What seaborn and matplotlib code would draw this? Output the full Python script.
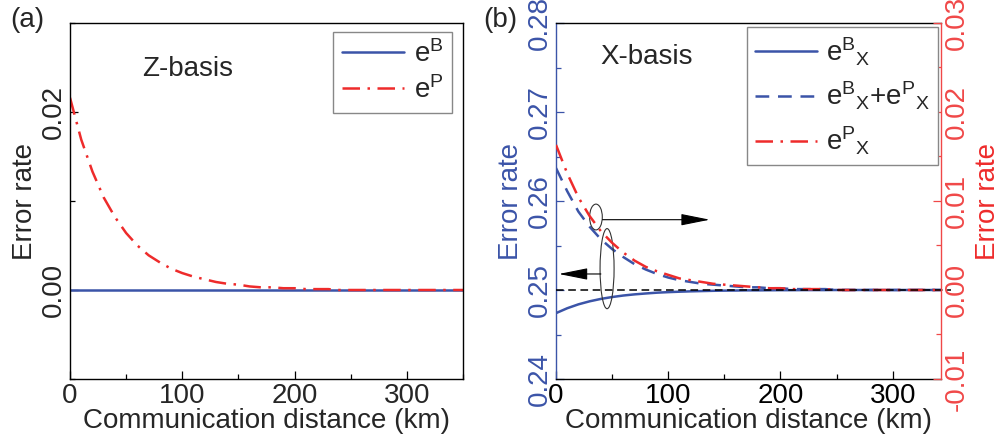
import numpy as np
import pandas as pd
import seaborn as sns
import matplotlib
matplotlib.use("Agg")
import matplotlib.pyplot as plt
from matplotlib.patches import Ellipse
from matplotlib.ticker import MultipleLocator, FormatStrFormatter

# ---------------- data ----------------
distance_km = [0, 10, 20, 30, 40, 50, 60, 70, 80, 90, 100, 110, 120, 130, 140, 150, 160, 170,
               180, 190, 200, 210, 220, 230, 240, 250, 260, 270, 280, 290, 300, 310, 320, 330, 340, 350]

# panel (a), Z basis
z_eB = [0.0] * 36
z_eP = [0.0216, 0.0169, 0.0133, 0.0104, 0.0082, 0.0064, 0.0050, 0.0039, 0.0031, 0.0024, 0.0019,
        0.0015, 0.0012, 0.0009, 0.0007, 0.0006, 0.0004, 0.0003, 0.0003, 0.0002, 0.0002, 0.0001,
        0.0001, 0.0001, 0.0, 0.0, 0.0, 0.0, 0.0, 0.0, 0.0, 0.0, 0.0, 0.0, 0.0, 0.0]

# panel (b), X basis (left axis)
x_eB = [0.24740, 0.24795, 0.24839, 0.24873, 0.24900, 0.24921, 0.24938, 0.24951, 0.24961, 0.24970,
        0.24976, 0.24981, 0.24985, 0.24988, 0.24991, 0.24993, 0.24994, 0.24996, 0.24996, 0.24997,
        0.24998, 0.24998, 0.24999, 0.24999, 0.24999, 0.25, 0.25, 0.25, 0.25, 0.25, 0.25, 0.25,
        0.25, 0.25, 0.25, 0.25]
x_eB_plus_eP = [0.2637, 0.2611, 0.2588, 0.2571, 0.2557, 0.2546, 0.2537, 0.2529, 0.2523, 0.2518,
                0.2514, 0.2511, 0.2509, 0.2507, 0.2506, 0.2505, 0.2504, 0.2503, 0.2503, 0.2502,
                0.2502, 0.2501, 0.2501, 0.2501, 0.2501, 0.2500, 0.2500, 0.2500, 0.2500, 0.2500,
                0.2500, 0.2500, 0.2500, 0.2500, 0.2500, 0.2500]
# panel (b), right axis
x_eP = [0.0163, 0.0131, 0.0104, 0.0083, 0.0066, 0.0053, 0.0042, 0.0033, 0.0026, 0.0021, 0.0017,
        0.0013, 0.0011, 0.0009, 0.0007, 0.0006, 0.0005, 0.0004, 0.0003, 0.0002, 0.0002, 0.0001,
        0.0001, 0.0001, 0.0001, 0.0, 0.0, 0.0, 0.0, 0.0, 0.0, 0.0, 0.0, 0.0, 0.0, 0.0]
reference_level_right = 0.0   # black dashed line (== 0.25 on left axis)

labels_a = [r'e$^{\mathrm{B}}$', r'e$^{\mathrm{P}}$']
labels_b = [r'e$^{\mathrm{B}}{}_{\mathrm{X}}$',
            r'e$^{\mathrm{B}}{}_{\mathrm{X}}$+e$^{\mathrm{P}}{}_{\mathrm{X}}$',
            r'e$^{\mathrm{P}}{}_{\mathrm{X}}$']

# ---------------- style ----------------
sns.set_style("ticks")
plt.rcParams['font.family'] = ['Liberation Sans', 'DejaVu Sans']
plt.rcParams['mathtext.fontset'] = 'custom'
plt.rcParams['mathtext.rm'] = 'Liberation Sans'
plt.rcParams['mathtext.it'] = 'Liberation Sans:italic'
plt.rcParams['mathtext.bf'] = 'Liberation Sans:bold'
plt.rcParams['axes.unicode_minus'] = False

BLUE = '#3b54a8'
RED = '#ee2b2b'
RED_AX = '#f04848'
TICK_FS = 20
LAB_FS = 20
LEG_FS = 20
LW = 1.8

fig = plt.figure(figsize=(10.04, 4.48), dpi=100)
ax_a = fig.add_axes([70 / 1004, 69 / 448, 393 / 1004, 356 / 448])
ax_b = fig.add_axes([556 / 1004, 69 / 448, 385 / 1004, 356 / 448])

df_a = pd.DataFrame({'d': distance_km, 'eB': z_eB, 'eP': z_eP})
df_b = pd.DataFrame({'d': distance_km, 'eB': x_eB, 'sum': x_eB_plus_eP, 'eP': x_eP})

dashdot = (0, (7, 3, 1, 3))
dashed = (0, (5.5, 3.5))

# ---------------- panel (a) ----------------
sns.lineplot(data=df_a, x='d', y='eB', ax=ax_a, color=BLUE, lw=LW)
sns.lineplot(data=df_a, x='d', y='eP', ax=ax_a, color=RED, lw=LW, linestyle=dashdot)
ax_a.set_xlim(0, 350)
ax_a.set_ylim(-0.01, 0.03)
ax_a.xaxis.set_major_locator(MultipleLocator(100))
ax_a.xaxis.set_minor_locator(MultipleLocator(50))
ax_a.yaxis.set_major_locator(MultipleLocator(0.02))
ax_a.yaxis.set_minor_locator(MultipleLocator(0.01))
ax_a.yaxis.set_major_formatter(FormatStrFormatter('%.2f'))
ax_a.tick_params(which='both', direction='in', labelsize=TICK_FS, color='k', width=0.9)
ax_a.tick_params(which='major', length=6)
ax_a.tick_params(which='minor', length=3.5)
ax_a.tick_params(axis='x', pad=3)
ax_a.tick_params(axis='y', pad=2)
for lab in ax_a.get_yticklabels():
    lab.set_rotation(90)
    lab.set_va('center')
for s in ax_a.spines.values():
    s.set_visible(True)
    s.set_linewidth(1.0)
    s.set_color('k')
ax_a.set_xlabel('Communication distance (km)', fontsize=LAB_FS, labelpad=-1)
ax_a.set_ylabel('Error rate', fontsize=LAB_FS, labelpad=2)
ax_a.text(0.183, 0.871, 'Z-basis', transform=ax_a.transAxes, fontsize=LAB_FS,
          ha='left', va='center')
h_a = ax_a.get_lines()[:2]
leg_a = ax_a.legend(h_a, labels_a, loc='upper right', bbox_to_anchor=(0.972, 0.975),
                    borderaxespad=0, fontsize=LEG_FS, frameon=True, fancybox=False,
                    edgecolor='#888888', framealpha=1, handlelength=2.25,
                    handletextpad=0.35, labelspacing=0.3, borderpad=0.3)
leg_a.get_frame().set_linewidth(1.0)

# ---------------- panel (b) ----------------
ax_b2 = ax_b.twinx()
sns.lineplot(data=df_b, x='d', y='eB', ax=ax_b, color=BLUE, lw=LW)
sns.lineplot(data=df_b, x='d', y='sum', ax=ax_b, color=BLUE, lw=LW, linestyle=dashed)
sns.lineplot(data=df_b, x='d', y='eP', ax=ax_b2, color=RED, lw=LW, linestyle=dashdot)
ax_b2.axhline(reference_level_right, xmin=0, xmax=1.025, color='k', lw=1.1,
              linestyle=(0, (5, 3)), clip_on=False)

ax_b.set_xlim(0, 343)
ax_b.set_ylim(0.24, 0.28)
ax_b2.set_ylim(-0.01, 0.03)
ax_b.xaxis.set_major_locator(MultipleLocator(100))
ax_b.xaxis.set_minor_locator(MultipleLocator(50))
ax_b.yaxis.set_major_locator(MultipleLocator(0.01))
ax_b.yaxis.set_minor_locator(MultipleLocator(0.005))
ax_b2.yaxis.set_major_locator(MultipleLocator(0.01))
ax_b2.yaxis.set_minor_locator(MultipleLocator(0.005))
ax_b.yaxis.set_major_formatter(FormatStrFormatter('%.2f'))
ax_b2.yaxis.set_major_formatter(FormatStrFormatter('%.2f'))

ax_b.tick_params(which='both', direction='in', labelsize=TICK_FS, width=0.9)
ax_b.tick_params(which='major', length=6)
ax_b.tick_params(which='minor', length=3.5)
ax_b.tick_params(axis='y', which='both', colors=BLUE, pad=2)
ax_b.tick_params(axis='x', which='both', colors='k', pad=3)
ax_b2.tick_params(which='both', direction='in', labelsize=TICK_FS, width=0.9, colors=RED_AX, pad=2)
ax_b2.tick_params(which='major', length=6)
ax_b2.tick_params(which='minor', length=3.5)
for lab in ax_b.get_yticklabels():
    lab.set_rotation(90)
    lab.set_va('center')
for lab in ax_b2.get_yticklabels():
    lab.set_rotation(90)
    lab.set_va('center')

for s in ['top', 'bottom', 'left', 'right']:
    ax_b.spines[s].set_visible(True)
    ax_b2.spines[s].set_visible(True)
ax_b.spines['right'].set_visible(False)
ax_b2.spines['left'].set_visible(False)
ax_b2.spines['top'].set_visible(False)
ax_b2.spines['bottom'].set_visible(False)
ax_b.spines['left'].set_color(BLUE)
ax_b.spines['top'].set_color('k')
ax_b.spines['bottom'].set_color('k')
ax_b2.spines['right'].set_color(RED_AX)
for s in ax_b.spines.values():
    s.set_linewidth(1.0)
ax_b2.spines['right'].set_linewidth(1.0)

ax_b.set_xlabel('Communication distance (km)', fontsize=LAB_FS, labelpad=-1)
ax_b.set_ylabel('Error rate', fontsize=LAB_FS, color=BLUE, labelpad=2)
ax_b2.set_ylabel('Error rate', fontsize=LAB_FS, color=RED, labelpad=4, rotation=90)
ax_b.text(0.114, 0.905, 'X-basis', transform=ax_b.transAxes, fontsize=LAB_FS,
          ha='left', va='center')

# ellipses + arrows
ax_b.add_patch(Ellipse((35.6, 0.2582), 11.3, 0.0029, fill=False, edgecolor='#333333', lw=0.8, zorder=5))
ax_b.add_patch(Ellipse((45.5, 0.2524), 12.5, 0.0090, fill=False, edgecolor='#333333', lw=0.8, zorder=5))
arrow_style = dict(arrowstyle='-|>,head_length=0.9,head_width=0.18', color='k', lw=0.8,
                   mutation_scale=20, shrinkA=0, shrinkB=0)
ax_b.annotate('', xy=(137, 0.2579), xytext=(41.5, 0.2579), arrowprops=arrow_style, zorder=6)
ax_b.annotate('', xy=(2.5, 0.2518), xytext=(40.0, 0.2518), arrowprops=arrow_style, zorder=6)

h_b = ax_b.get_lines()[:2] + ax_b2.get_lines()[:1]
leg_b = ax_b2.legend(h_b, labels_b, loc='upper right', bbox_to_anchor=(0.992, 0.989),
                     borderaxespad=0, fontsize=LEG_FS, frameon=True, fancybox=False,
                     edgecolor='#888888', framealpha=1, handlelength=2.25,
                     handletextpad=0.3, labelspacing=0.45, borderpad=0.3)
leg_b.get_frame().set_linewidth(1.0)

fig.text(10 / 1004, 1 - 20 / 448, '(a)', fontsize=LAB_FS, ha='left', va='center')
fig.text(483 / 1004, 1 - 20 / 448, '(b)', fontsize=LAB_FS, ha='left', va='center')

fig.savefig('out.png', dpi=100)
